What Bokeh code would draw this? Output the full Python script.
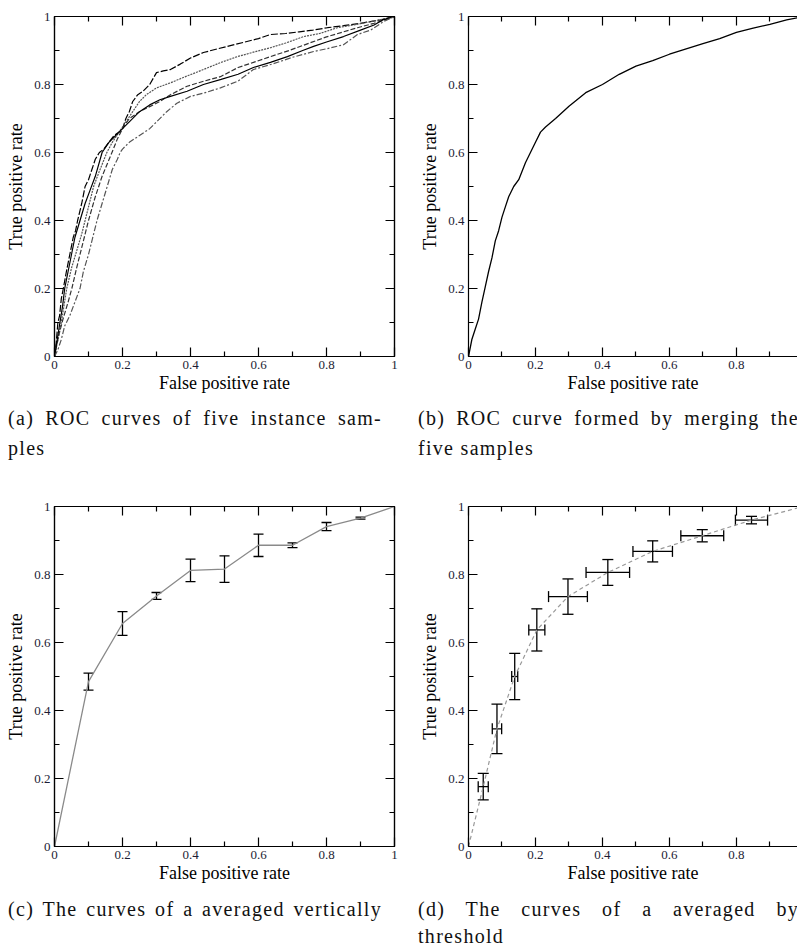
from bokeh.plotting import figure
from bokeh.models import Range1d, FixedTicker, LinearAxis, ColumnDataSource, Whisker, TeeHead, Div
from bokeh.layouts import column, row
from bokeh.embed import file_html
from bokeh.resources import INLINE

# ---------------- data ----------------
TICKS = [0, 0.2, 0.4, 0.6, 0.8, 1.0]
MINOR_TICKS = [0.1, 0.3, 0.5, 0.7, 0.9]
TICK_LABELS = ["0", "0.2", "0.4", "0.6", "0.8", "1"]

# (a) five instance samples
S1_FPR = [0, 0.005, 0.01, 0.015, 0.02, 0.026, 0.035, 0.045, 0.055, 0.062, 0.068, 0.08, 0.09, 0.1, 0.11, 0.12,
          0.132, 0.145, 0.16, 0.175, 0.19, 0.2, 0.21, 0.22, 0.23, 0.245, 0.26, 0.28, 0.3, 0.32, 0.341, 0.37, 0.4,
          0.438, 0.48, 0.52, 0.56, 0.6, 0.635, 0.68, 0.72, 0.76, 0.803, 0.85, 0.9, 0.929, 0.96, 0.99, 1.0]
S1_TPR = [0, 0.04, 0.1, 0.12, 0.17, 0.2, 0.25, 0.3, 0.35, 0.37, 0.4, 0.45, 0.5, 0.52, 0.55, 0.58,
          0.6, 0.61, 0.63, 0.65, 0.66, 0.67, 0.7, 0.72, 0.75, 0.77, 0.78, 0.8, 0.835, 0.84, 0.844, 0.86, 0.878,
          0.894, 0.905, 0.915, 0.925, 0.935, 0.947, 0.95, 0.955, 0.96, 0.967, 0.973, 0.98, 0.985, 0.99, 0.998, 1.0]

S2_FPR = [0, 0.01, 0.02, 0.036, 0.05, 0.065, 0.08, 0.09, 0.1, 0.115, 0.13, 0.154, 0.17, 0.19, 0.21, 0.23, 0.25,
          0.27, 0.3, 0.341, 0.39, 0.438, 0.49, 0.538, 0.585, 0.635, 0.68, 0.733, 0.78, 0.832, 0.88, 0.93, 0.97, 1.0]
S2_TPR = [0, 0.05, 0.1, 0.2, 0.26, 0.31, 0.36, 0.4, 0.44, 0.5, 0.54, 0.6, 0.63, 0.66, 0.69, 0.72, 0.75,
          0.77, 0.79, 0.805, 0.825, 0.844, 0.865, 0.882, 0.895, 0.908, 0.922, 0.941, 0.95, 0.967, 0.975, 0.985,
          0.993, 1.0]

S3_FPR = [0, 0.012, 0.025, 0.04, 0.051, 0.065, 0.08, 0.1, 0.12, 0.14, 0.169, 0.185, 0.2, 0.22, 0.25, 0.28, 0.31,
          0.341, 0.39, 0.44, 0.488, 0.54, 0.585, 0.635, 0.69, 0.753, 0.8, 0.85, 0.891, 0.94, 0.98, 1.0]
S3_TPR = [0, 0.06, 0.11, 0.16, 0.2, 0.26, 0.32, 0.4, 0.47, 0.53, 0.6, 0.64, 0.67, 0.7, 0.72, 0.735, 0.75,
          0.77, 0.795, 0.81, 0.823, 0.85, 0.865, 0.882, 0.9, 0.923, 0.94, 0.955, 0.967, 0.98, 0.993, 1.0]

S4_FPR = [0, 0.008, 0.016, 0.024, 0.03, 0.04, 0.05, 0.06, 0.075, 0.09, 0.105, 0.12, 0.14, 0.16, 0.18, 0.2, 0.22,
          0.25, 0.28, 0.31, 0.341, 0.39, 0.438, 0.49, 0.54, 0.585, 0.635, 0.685, 0.73, 0.762, 0.8, 0.85, 0.9,
          0.94, 0.968, 1.0]
S4_TPR = [0, 0.05, 0.1, 0.15, 0.2, 0.25, 0.3, 0.35, 0.4, 0.45, 0.49, 0.53, 0.6, 0.63, 0.65, 0.67, 0.69,
          0.72, 0.74, 0.755, 0.765, 0.78, 0.8, 0.815, 0.83, 0.85, 0.865, 0.882, 0.9, 0.912, 0.925, 0.941, 0.96,
          0.975, 0.991, 1.0]

S5_FPR = [0, 0.01, 0.02, 0.03, 0.045, 0.06, 0.075, 0.085, 0.1, 0.115, 0.125, 0.14, 0.155, 0.17, 0.185, 0.193,
          0.2, 0.22, 0.25, 0.28, 0.3, 0.33, 0.36, 0.4, 0.44, 0.488, 0.54, 0.585, 0.64, 0.7, 0.762, 0.8, 0.85,
          0.891, 0.93, 0.968, 1.0]
S5_TPR = [0, 0.02, 0.05, 0.09, 0.12, 0.16, 0.2, 0.25, 0.3, 0.36, 0.4, 0.45, 0.5, 0.55, 0.58, 0.6,
          0.61, 0.63, 0.65, 0.67, 0.69, 0.72, 0.745, 0.765, 0.775, 0.79, 0.81, 0.844, 0.86, 0.88, 0.897, 0.905,
          0.917, 0.947, 0.96, 0.985, 1.0]

# (b) merged curve
MERGED_FPR = [0, 0.01, 0.02, 0.03, 0.04, 0.05, 0.06, 0.07, 0.08, 0.09, 0.1, 0.11, 0.12, 0.135, 0.15, 0.17,
              0.185, 0.2, 0.215, 0.23, 0.26, 0.3, 0.35, 0.4, 0.45, 0.5, 0.55, 0.6, 0.65, 0.7, 0.75, 0.8, 0.85,
              0.9, 0.95, 1.0]
MERGED_TPR = [0, 0.05, 0.08, 0.11, 0.16, 0.205, 0.25, 0.29, 0.34, 0.37, 0.41, 0.44, 0.47, 0.5, 0.52, 0.57,
              0.6, 0.63, 0.66, 0.675, 0.7, 0.736, 0.776, 0.8, 0.83, 0.854, 0.87, 0.889, 0.905, 0.92, 0.935,
              0.953, 0.966, 0.977, 0.99, 1.0]

# (c) vertical averaging
VERT_FPR = [0, 0.1, 0.2, 0.3, 0.4, 0.5, 0.6, 0.7, 0.8, 0.9, 1.0]
VERT_TPR = [0, 0.485, 0.656, 0.737, 0.812, 0.816, 0.886, 0.886, 0.941, 0.966, 1.0]
VERT_ERR = [0, 0.025, 0.035, 0.01, 0.033, 0.039, 0.033, 0.007, 0.012, 0.003, 0]

# (d) threshold averaging
THR_FPR = [0.044, 0.085, 0.138, 0.204, 0.297, 0.416, 0.55, 0.698, 0.845]
THR_TPR = [0.176, 0.346, 0.5, 0.637, 0.735, 0.806, 0.868, 0.914, 0.96]
THR_FPR_ERR = [0.015, 0.014, 0.009, 0.024, 0.058, 0.065, 0.059, 0.064, 0.048]
THR_TPR_ERR = [0.039, 0.073, 0.068, 0.062, 0.052, 0.038, 0.031, 0.018, 0.011]

CAPTIONS = {
    "a": ["(a) ROC curves of five instance sam-", "ples"],
    "b": ["(b) ROC curve formed by merging the", "five samples"],
    "c": ["(c) The curves of a averaged vertically"],
    "d": ["(d) The curves of a averaged by", "threshold"],
}

SERIF = "Liberation Serif"


def style_axis(ax, show_labels=True):
    ax.ticker = FixedTicker(ticks=TICKS, minor_ticks=MINOR_TICKS)
    ax.major_tick_in = 9
    ax.major_tick_out = 0
    ax.minor_tick_in = 5
    ax.minor_tick_out = 0
    ax.axis_line_color = "black"
    ax.axis_line_width = 1.2
    ax.major_tick_line_color = "black"
    ax.major_tick_line_width = 1.2
    ax.minor_tick_line_color = "black"
    ax.minor_tick_line_width = 1.2
    ax.major_label_text_font = SERIF
    ax.major_label_text_color = "#1c1c34"
    if show_labels:
        ax.major_label_overrides = dict(zip(TICKS, TICK_LABELS))
        ax.major_label_text_font_size = "13px"
        ax.major_label_standoff = 4
    else:
        ax.major_label_overrides = {t: "" for t in TICKS}
        ax.major_label_text_font_size = "1px"
        ax.major_label_standoff = 0


def make_fig(width, height, xend, border_left, border_right, border_top, border_bottom, full_frame):
    p = figure(width=width, height=height, x_range=Range1d(0, xend), y_range=Range1d(0, 1),
               output_backend="svg", toolbar_location=None,
               min_border_left=border_left, min_border_right=border_right,
               min_border_top=border_top, min_border_bottom=border_bottom)
    p.grid.visible = False
    p.background_fill_color = "white"
    p.border_fill_color = "white"
    p.outline_line_color = "black" if full_frame else None
    p.outline_line_width = 1.2
    bx = p.below[0]
    ly = p.left[0]
    style_axis(bx)
    style_axis(ly)
    bx.axis_label = "False positive rate"
    ly.axis_label = "True positive rate"
    for ax in (bx, ly):
        ax.axis_label_text_font = SERIF
        ax.axis_label_text_font_size = "18px"
        ax.axis_label_text_font_style = "normal"
        ax.axis_label_text_color = "black"
    bx.axis_label_standoff = 1
    ly.axis_label_standoff = 5
    top = LinearAxis()
    style_axis(top, show_labels=False)
    p.add_layout(top, "above")
    if full_frame:
        rt = LinearAxis()
        style_axis(rt, show_labels=False)
        p.add_layout(rt, "right")
    return p


def caption(lines, width, height, pad_top, pad_left, line_h):
    first = lines[0]
    font_css = 'font-family:"Liberation Serif",serif;font-size:20px;letter-spacing:1.3px;color:#111;'
    html = (f"<div style='width:{width}px;height:{height}px;overflow:hidden;{font_css}'>"
            f"<div style='width:382px;padding-left:{pad_left}px;padding-top:{pad_top}px;line-height:{line_h}px;{font_css}'>")
    html += (f"<div style='text-align:justify;text-align-last:justify;white-space:nowrap;{font_css}'>"
             f"{first}</div>")
    if len(lines) > 1:
        html += f"<div style='{font_css}'>{lines[1]}</div>"
    html += "</div></div>"
    return Div(text=html, width=width, height=height, margin=0)


# ---------------- panels ----------------
# page origin at (0, 0); frames: a/c at x 54-394, b/d at x 463-797 (cut at the window edge)
XEND_RIGHT = 334 / 340

pa = make_fig(417, 396, 1.0, 54, 23, 16, 40, True)
styles_a = [
    (S1_FPR, S1_TPR, "black", "7 2"),
    (S2_FPR, S2_TPR, "#555555", "2 1"),
    (S3_FPR, S3_TPR, "#333333", "5 2"),
    (S4_FPR, S4_TPR, "black", "solid"),
    (S5_FPR, S5_TPR, "#555555", "6 2 2 2"),
]
for xs, ys, col, dash in styles_a:
    pa.line(xs, ys, line_color=col, line_width=1.2, line_dash=dash)

pb = make_fig(380, 396, XEND_RIGHT, 46, 0, 16, 40, False)
pb.line(MERGED_FPR, MERGED_TPR, line_color="black", line_width=1.3)

pc = make_fig(417, 398, 1.0, 54, 23, 18, 40, True)
pc.line(VERT_FPR, VERT_TPR, line_color="#8a8a8a", line_width=1.3)
vx = [x for x, e in zip(VERT_FPR, VERT_ERR) if e > 0]
vy = [y for y, e in zip(VERT_TPR, VERT_ERR) if e > 0]
ve = [e for e in VERT_ERR if e > 0]
src_c = ColumnDataSource(dict(x=vx, upper=[y + e for y, e in zip(vy, ve)], lower=[y - e for y, e in zip(vy, ve)]))
pc.add_layout(Whisker(source=src_c, base="x", upper="upper", lower="lower", dimension="height",
                      line_color="black", line_width=1.3,
                      upper_head=TeeHead(size=10, line_color="black", line_width=1.3),
                      lower_head=TeeHead(size=10, line_color="black", line_width=1.3)))

pd_ = make_fig(380, 398, XEND_RIGHT, 46, 0, 18, 40, False)
pd_.line([0] + THR_FPR + [1], [0] + THR_TPR + [1], line_color="#999999", line_width=1.2, line_dash="4 3")
src_d = ColumnDataSource(dict(
    x=THR_FPR, y=THR_TPR,
    yup=[y + e for y, e in zip(THR_TPR, THR_TPR_ERR)], ylo=[y - e for y, e in zip(THR_TPR, THR_TPR_ERR)],
    xup=[x + e for x, e in zip(THR_FPR, THR_FPR_ERR)], xlo=[x - e for x, e in zip(THR_FPR, THR_FPR_ERR)],
))
pd_.add_layout(Whisker(source=src_d, base="x", upper="yup", lower="ylo", dimension="height",
                       line_color="black", line_width=1.3,
                       upper_head=TeeHead(size=11, line_color="black", line_width=1.3),
                       lower_head=TeeHead(size=11, line_color="black", line_width=1.3)))
pd_.add_layout(Whisker(source=src_d, base="y", upper="xup", lower="xlo", dimension="width",
                       line_color="black", line_width=1.3,
                       upper_head=TeeHead(size=11, line_color="black", line_width=1.3),
                       lower_head=TeeHead(size=11, line_color="black", line_width=1.3)))

cap_a = caption(CAPTIONS["a"], 417, 92, 7, 8, 30)
cap_b = caption(CAPTIONS["b"], 380, 92, 7, 1, 30)
cap_c = caption(CAPTIONS["c"], 417, 60, 10, 8, 27)
cap_d = caption(CAPTIONS["d"], 380, 60, 10, 1, 27)

layout = column(row(pa, pb), row(cap_a, cap_b), row(pc, pd_), row(cap_c, cap_d))

open("out.html", "w").write(file_html(layout, INLINE))
